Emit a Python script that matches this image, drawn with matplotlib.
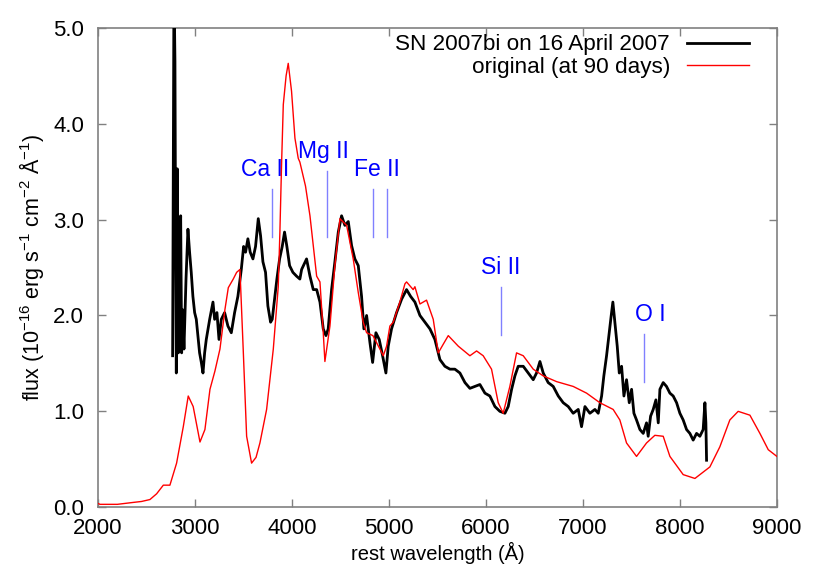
import matplotlib
matplotlib.use('Agg')
import matplotlib.pyplot as plt

plt.rcParams['font.family'] = ['Liberation Sans', 'DejaVu Sans']
plt.rcParams['mathtext.fontset'] = 'custom'
plt.rcParams['mathtext.rm'] = 'Liberation Sans'

# original spectrum (at 90 days)
red_wl = [2000, 2021, 2200, 2364, 2450, 2536, 2605, 2674, 2742, 2811, 2880, 2931, 2982,
          3052, 3103, 3155, 3206, 3258, 3309, 3344, 3395, 3430, 3464, 3498, 3533,
          3584, 3630, 3670, 3739, 3808, 3859, 3876, 3893, 3911, 3940, 3962, 3996,
          4031, 4065, 4082, 4140, 4186, 4255, 4289, 4323, 4340, 4392, 4443, 4495,
          4564, 4632, 4684, 4735, 4770, 4835, 4907, 4942, 4976, 5010, 5045, 5113,
          5165, 5182, 5250, 5268, 5320, 5388, 5457, 5509, 5560, 5612, 5715, 5835,
          5904, 5972, 6058, 6127, 6178, 6247, 6316, 6385, 6488, 6591, 6729, 6900,
          7038, 7175, 7312, 7381, 7450, 7553, 7656, 7742, 7828, 7897, 8034, 8155,
          8309, 8412, 8515, 8601, 8722, 8825, 8911, 9000]
red_fl = [0.04, 0.03, 0.03, 0.05, 0.06, 0.08, 0.14, 0.23, 0.23, 0.46, 0.84, 1.16, 1.05,
          0.68, 0.81, 1.23, 1.42, 1.65, 2.06, 2.29, 2.38, 2.45, 2.48, 1.64, 0.74,
          0.46, 0.52, 0.67, 1.02, 1.65, 2.30, 2.87, 3.57, 4.20, 4.50, 4.63, 4.34,
          3.85, 3.64, 3.60, 3.35, 3.04, 2.41, 2.35, 1.82, 1.52, 1.89, 2.52, 3.01,
          2.94, 2.59, 2.24, 1.93, 1.82, 1.79, 1.65, 1.58, 1.68, 1.89, 1.93, 2.14,
          2.33, 2.35, 2.27, 2.30, 2.12, 2.16, 1.96, 1.61, 1.70, 1.79, 1.68, 1.58,
          1.63, 1.58, 1.44, 1.09, 0.98, 1.26, 1.61, 1.58, 1.44, 1.37, 1.31, 1.26,
          1.19, 1.09, 1.02, 0.91, 0.67, 0.53, 0.67, 0.75, 0.74, 0.53, 0.34, 0.30,
          0.42, 0.63, 0.91, 1.00, 0.96, 0.77, 0.60, 0.53]

# SN 2007bi on 16 April 2007
sn_wl = [2770, 2777, 2784, 2794, 2801, 2808, 2818, 2829, 2839, 2853, 2863, 2873, 2887,
         2908, 2928, 2945, 2962, 2979, 2997, 3014, 3031, 3048, 3066, 3083, 3100,
         3117, 3152, 3186, 3203, 3227, 3248, 3272, 3306, 3340, 3375, 3409, 3443,
         3478, 3502, 3522, 3546, 3570, 3598, 3625, 3653, 3677, 3701, 3728, 3752,
         3780, 3797, 3821, 3845, 3873, 3900, 3924, 3948, 3976, 4010, 4048, 4082,
         4100, 4151, 4186, 4220, 4255, 4289, 4323, 4351, 4374, 4409, 4443, 4478,
         4512, 4546, 4581, 4615, 4649, 4684, 4718, 4742, 4770, 4804, 4832, 4866,
         4900, 4935, 4969, 4993, 5027, 5079, 5131, 5182, 5223, 5268, 5320, 5371,
         5423, 5474, 5526, 5577, 5629, 5680, 5732, 5784, 5835, 5887, 5938, 5990,
         6041, 6093, 6144, 6196, 6230, 6265, 6299, 6333, 6385, 6436, 6488, 6522,
         6557, 6591, 6642, 6694, 6746, 6797, 6849, 6900, 6952, 6986, 7021, 7072,
         7124, 7158, 7193, 7216, 7244, 7271, 7292, 7309, 7330, 7354, 7375, 7399,
         7423, 7450, 7478, 7502, 7526, 7553, 7588, 7622, 7656, 7673, 7698, 7725,
         7753, 7777, 7794, 7828, 7862, 7897, 7931, 7966, 8000, 8034, 8069, 8103,
         8137, 8172, 8206, 8240, 8258, 8268, 8275]
sn_fl = [1.58, 3.71, 5.50, 4.65, 2.66, 1.40, 3.53, 1.61, 2.31, 3.04, 1.61, 2.06, 1.65,
         2.38, 2.90, 2.66, 2.45, 2.20, 2.03, 1.96, 1.79, 1.61, 1.51, 1.40, 1.61,
         1.75, 1.96, 2.14, 1.96, 2.03, 1.75, 1.96, 2.03, 1.89, 1.82, 2.03, 2.20,
         2.48, 2.72, 2.66, 2.80, 2.66, 2.59, 2.72, 3.01, 2.83, 2.56, 2.45, 2.10,
         1.93, 1.96, 2.17, 2.38, 2.59, 2.72, 2.87, 2.72, 2.52, 2.45, 2.41, 2.38,
         2.48, 2.59, 2.41, 2.27, 2.27, 2.14, 1.86, 1.79, 1.86, 2.27, 2.56, 2.87,
         3.04, 2.94, 2.98, 2.73, 2.59, 2.52, 2.20, 1.86, 2.00, 1.72, 1.51, 1.82,
         1.75, 1.58, 1.40, 1.68, 1.86, 2.03, 2.17, 2.27, 2.20, 2.14, 2.00, 1.93,
         1.86, 1.75, 1.54, 1.47, 1.44, 1.44, 1.40, 1.30, 1.24, 1.26, 1.28, 1.19,
         1.16, 1.05, 1.00, 0.98, 1.05, 1.23, 1.37, 1.47, 1.47, 1.40, 1.33, 1.40,
         1.52, 1.40, 1.30, 1.26, 1.16, 1.09, 1.05, 0.98, 1.02, 0.84, 1.05, 0.98,
         1.02, 0.98, 1.16, 1.37, 1.58, 1.82, 2.00, 2.14, 1.93, 1.68, 1.40, 1.47,
         1.16, 1.33, 1.09, 1.23, 0.98, 0.91, 0.81, 0.77, 0.88, 0.74, 0.95, 1.02,
         1.12, 0.88, 1.23, 1.30, 1.26, 1.19, 1.16, 1.09, 0.98, 0.91, 0.81, 0.77,
         0.70, 0.77, 0.74, 0.81, 1.09, 0.88, 0.49]

# line identifications
ion_names = ['Ca II', 'Mg II', 'Fe II', 'Si II', 'O I']
ion_label_x = [3726, 4330, 4876, 6155, 7700]
ion_label_y = [3.52, 3.71, 3.52, 2.50, 2.01]
ion_marks = [[3794], [4361], [4835, 4979], [6155], [7629]]
ion_mark_lo = [2.82, 2.82, 2.82, 1.80, 1.31]
ion_mark_hi = [3.32, 3.51, 3.32, 2.30, 1.81]

fig = plt.figure(figsize=(8.3, 5.81), dpi=100)
ax = fig.add_axes([0.118, 0.127, 0.818, 0.825])

ax.plot(sn_wl, sn_fl, color='black', lw=2.0, label='SN 2007bi on 16 April 2007', zorder=3)
ax.plot(red_wl, red_fl, color='red', lw=1.0, label='original (at 90 days)', zorder=4)

for name, lx, ly, xs, lo, hi in zip(ion_names, ion_label_x, ion_label_y, ion_marks,
                                     ion_mark_lo, ion_mark_hi):
    ax.text(lx, ly, name, color='blue', fontsize=16.5, ha='center', va='center')
    for xm in xs:
        ax.plot([xm, xm], [lo, hi], color='#8080ff', lw=1.0)

ax.set_xlim(2000, 9000)
ax.set_ylim(0, 5)
ax.set_xticks(range(2000, 9001, 1000))
ax.set_yticks([0, 1, 2, 3, 4, 5])
ax.set_yticklabels(['%.1f' % v for v in [0, 1, 2, 3, 4, 5]])
ax.tick_params(direction='in', top=True, right=True, length=6, width=1,
               color='#808080', labelsize=16)
ax.tick_params(axis='y', pad=10)
ax.tick_params(axis='x', pad=8)
for s in ax.spines.values():
    s.set_color('#808080')
    s.set_linewidth(1.2)

ax.set_xlabel('rest wavelength (Å)', fontsize=14.5, labelpad=2)
ax.set_ylabel(r'flux (10$^{-16}$ erg s$^{-1}$ cm$^{-2}$ Å$^{-1}$)', fontsize=15.5, labelpad=5)

ax.legend(loc='upper right', bbox_to_anchor=(0.972, 1.005), borderaxespad=0,
          frameon=False, markerfirst=False, fontsize=16.2,
          handlelength=2.75, labelspacing=0.05, handletextpad=0.75)

plt.savefig('out.png', dpi=100)
